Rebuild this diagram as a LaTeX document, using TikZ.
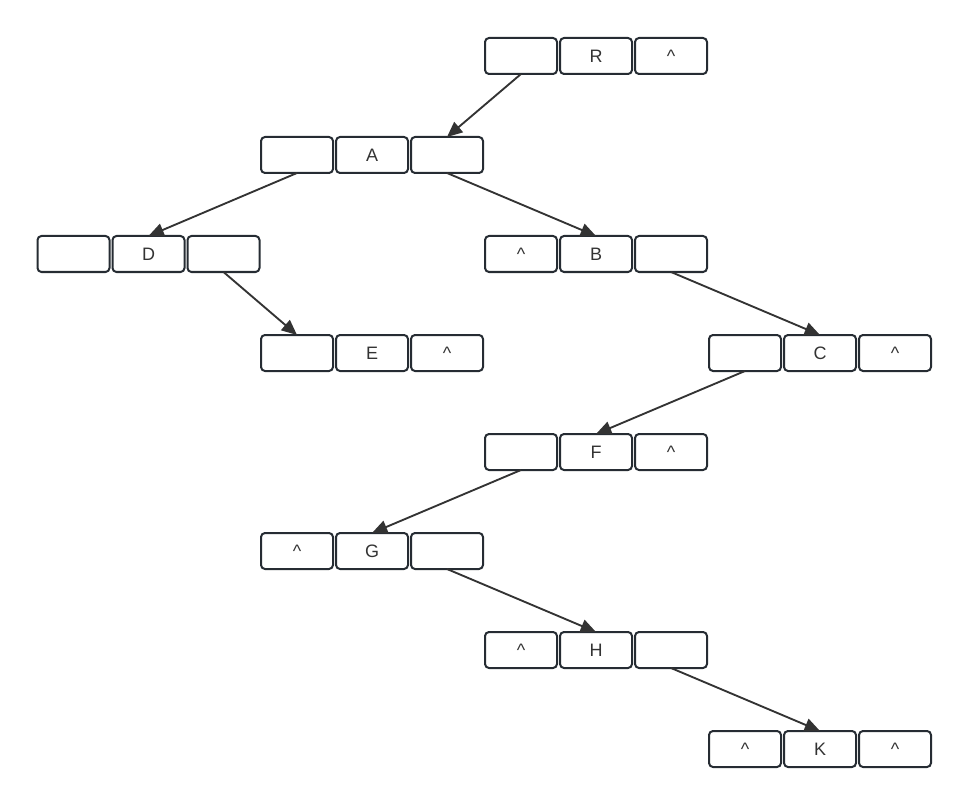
\documentclass[tikz,border=0pt]{standalone}
\usepackage{fontspec}
\setmainfont{Liberation Sans}
\usetikzlibrary{arrows.meta}
\definecolor{boxline}{HTML}{262C33}
\definecolor{arrowc}{HTML}{333333}
\definecolor{txt}{HTML}{333333}
\tikzset{
  cell/.style={draw=boxline, line width=1.5pt, rounded corners=3pt, minimum width=54pt, minimum height=27pt, inner sep=0pt, outer sep=0pt, text=txt, font=\fontsize{13.5}{15}\selectfont},
  link/.style={draw=arrowc, line width=1.4pt, -{Triangle[length=11.5pt,width=10pt]}}
}
\newcommand{\dnode}[6]{%
  \node[cell] (#1l) at (#2,#3) {#4};
  \node[cell] (#1m) at (#2+75,#3) {#5};
  \node[cell] (#1r) at (#2+150,#3) {#6};
}
\begin{document}
\begin{tikzpicture}[x=0.75pt,y=-0.75pt]
\useasboundingbox (0,0) rectangle (969,805);
\def\ca{\textasciicircum}
\dnode{R}{521}{56}{}{R}{\ca}
\dnode{A}{297}{155}{}{A}{}
\dnode{D}{73.5}{254}{}{D}{}
\dnode{B}{521}{254}{\ca}{B}{}
\dnode{E}{297}{353}{}{E}{\ca}
\dnode{C}{745}{353}{}{C}{\ca}
\dnode{F}{521}{452}{}{F}{\ca}
\dnode{G}{297}{551}{\ca}{G}{}
\dnode{H}{521}{650}{\ca}{H}{}
\dnode{K}{745}{749}{\ca}{K}{\ca}
\draw[link] (Rl.south) -- (Ar.north);
\draw[link] (Al.south) -- (Dm.north);
\draw[link] (Dr.south) -- (El.north);
\draw[link] (Ar.south) -- (Bm.north);
\draw[link] (Br.south) -- (Cm.north);
\draw[link] (Cl.south) -- (Fm.north);
\draw[link] (Fl.south) -- (Gm.north);
\draw[link] (Gr.south) -- (Hm.north);
\draw[link] (Hr.south) -- (Km.north);
\end{tikzpicture}
\end{document}
